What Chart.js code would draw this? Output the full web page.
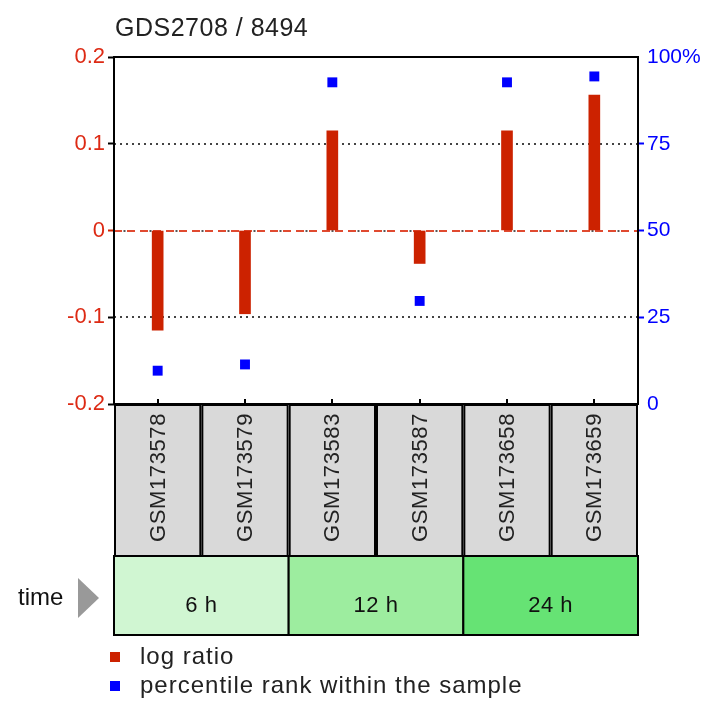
<!DOCTYPE html>
<html>
<head>
<meta charset="utf-8">
<script src="https://cdn.jsdelivr.net/npm/chart.js@4.4.1/dist/chart.umd.min.js"></script>
<style>
  html, body { margin: 0; padding: 0; background: #fff; }
  #wrap { width: 705px; height: 701px; }
</style>
</head>
<body>
<div id="wrap"><canvas id="geoChart" width="705" height="701"></canvas></div>
<script>
// Chart data
const title = 'GDS2708 / 8494';
const samples = ['GSM173578', 'GSM173579', 'GSM173583', 'GSM173587', 'GSM173658', 'GSM173659'];
const logRatio = [-0.115, -0.096, 0.115, -0.038, 0.115, 0.156];
const percentile = [9.6, 11.4, 92.7, 29.7, 92.7, 94.4];
const groupNames = ['6 h', '12 h', '24 h'];
const groupSizes = [2, 2, 2];
const groupColors = ['#d0f6d2', '#9ded9f', '#66e374'];
const legendLabels = ['log ratio', 'percentile rank within the sample'];

const FONT = '"Liberation Sans", Arial, sans-serif';
const RED = '#cc2200';
const BLUE = '#0000ff';

// Extra drawing: frame, grid lines, sample boxes, groups, legend
const geoPlugin = {
    id: 'geoPlugin',
    beforeDatasetsDraw(chart) {
        const { ctx, chartArea: a, scales } = chart;
        const y = scales.y;
        ctx.save();
        // dotted lines at +-0.1
        ctx.strokeStyle = '#444';
        ctx.lineWidth = 2;
        ctx.setLineDash([2, 4]);
        [0.1, -0.1].forEach(v => {
            const py = Math.round(y.getPixelForValue(v));
            ctx.beginPath();
            ctx.moveTo(a.left, py);
            ctx.lineTo(a.right, py);
            ctx.stroke();
        });
        // zero line, red dash-dot
        const zy = Math.round(y.getPixelForValue(0));
        ctx.strokeStyle = '#e04a30';
        ctx.setLineDash([8, 5]);
        ctx.beginPath();
        ctx.moveTo(a.left, zy);
        ctx.lineTo(a.right, zy);
        ctx.stroke();
        ctx.strokeStyle = '#555';
        ctx.setLineDash([2, 24]);
        ctx.lineDashOffset = -9.5;
        ctx.beginPath();
        ctx.moveTo(a.left, zy);
        ctx.lineTo(a.right, zy);
        ctx.stroke();
        ctx.restore();
    },
    afterDraw(chart) {
        const { ctx, chartArea: a, scales } = chart;
        const x = scales.x;
        const colW = a.width / samples.length;
        ctx.save();
        ctx.setLineDash([]);

        // title
        ctx.fillStyle = '#222';
        ctx.font = '25px ' + FONT;
        ctx.letterSpacing = '0.5px';
        ctx.textAlign = 'left';
        ctx.textBaseline = 'alphabetic';
        ctx.fillText(title, 115, 36);

        // plot frame
        ctx.strokeStyle = '#000';
        ctx.lineWidth = 2;
        ctx.strokeRect(a.left, a.top, a.width, a.height);

        // small ticks at column centres
        samples.forEach((s, i) => {
            const px = Math.round(x.getPixelForValue(i));
            ctx.beginPath();
            ctx.moveTo(px, a.bottom);
            ctx.lineTo(px, a.bottom - 5);
            ctx.stroke();
        });

        // sample boxes
        const boxTop = a.bottom + 1;
        const boxBottom = 556;
        samples.forEach((s, i) => {
            const left = a.left + i * colW;
            ctx.fillStyle = '#d9d9d9';
            ctx.fillRect(left, boxTop, colW, boxBottom - boxTop);
            ctx.strokeStyle = '#000';
            ctx.lineWidth = 2;
            ctx.strokeRect(left + 1, boxTop, colW - 2, boxBottom - boxTop);
            ctx.save();
            ctx.translate(left + colW / 2, boxTop + 8);
            ctx.rotate(-Math.PI / 2);
            ctx.fillStyle = '#222';
            ctx.font = '22px ' + FONT;
            ctx.letterSpacing = '0.6px';
            ctx.textAlign = 'right';
            ctx.textBaseline = 'middle';
            ctx.fillText(s, 0, 1);
            ctx.restore();
        });

        // group band
        const gTop = boxBottom;
        const gBottom = 635;
        let start = 0;
        groupNames.forEach((g, k) => {
            const left = a.left + start * colW;
            const w = groupSizes[k] * colW;
            ctx.fillStyle = groupColors[k];
            ctx.fillRect(left, gTop, w, gBottom - gTop);
            ctx.strokeStyle = '#000';
            ctx.lineWidth = 2;
            ctx.strokeRect(left, gTop, w, gBottom - gTop);
            ctx.fillStyle = '#111';
            ctx.font = '22px ' + FONT;
            ctx.letterSpacing = '0.5px';
            ctx.textAlign = 'center';
            ctx.textBaseline = 'middle';
            ctx.fillText(g, left + w / 2, 606);
            start += groupSizes[k];
        });

        // "time" label and arrow
        ctx.fillStyle = '#111';
        ctx.font = '24px ' + FONT;
        ctx.letterSpacing = '0px';
        ctx.textAlign = 'left';
        ctx.textBaseline = 'middle';
        ctx.fillText('time', 18, 598);
        ctx.fillStyle = '#999';
        ctx.beginPath();
        ctx.moveTo(78, 578);
        ctx.lineTo(99, 598);
        ctx.lineTo(78, 618);
        ctx.closePath();
        ctx.fill();

        // legend
        const legendColors = [RED, BLUE];
        legendLabels.forEach((t, k) => {
            const cy = 657 + k * 29;
            ctx.fillStyle = legendColors[k];
            ctx.fillRect(110, cy - 5, 10, 10);
            ctx.fillStyle = '#222';
            ctx.font = '24px ' + FONT;
            ctx.letterSpacing = '1px';
            ctx.textAlign = 'left';
            ctx.textBaseline = 'middle';
            ctx.fillText(t, 140, cy);
        });
        ctx.restore();
    }
};

const ctx = document.getElementById('geoChart').getContext('2d');
const chart = new Chart(ctx, {
    type: 'bar',
    data: {
        labels: samples,
        datasets: [{
            label: legendLabels[0],
            data: logRatio,
            yAxisID: 'y',
            backgroundColor: RED,
            barThickness: 11,
            order: 2
        }, {
            type: 'line',
            label: legendLabels[1],
            data: percentile,
            yAxisID: 'y1',
            showLine: false,
            pointStyle: 'rect',
            pointRadius: 7,
            pointHoverRadius: 7,
            pointBorderWidth: 0,
            backgroundColor: BLUE,
            borderColor: BLUE,
            order: 1
        }]
    },
    options: {
        responsive: false,
        animation: false,
        devicePixelRatio: 1,
        layout: { padding: { top: 57, bottom: 297, left: 0, right: 0 } },
        plugins: {
            legend: { display: false },
            title: { display: false },
            tooltip: { enabled: false }
        },
        scales: {
            x: {
                display: false,
                offset: true
            },
            y: {
                position: 'left',
                min: -0.2,
                max: 0.2,
                afterFit: s => { s.width = 114; },
                border: { display: false },
                grid: {
                    drawOnChartArea: false,
                    tickLength: 6,
                    tickWidth: 2,
                    tickColor: c => Math.abs(c.tick.value) < 1e-9 ? RED : '#000'
                },
                ticks: {
                    stepSize: 0.1,
                    padding: 3,
                    color: '#dd2a14',
                    font: { family: FONT, size: 22 },
                    callback: v => Math.abs(v) < 1e-9 ? '0' : (Math.round(v * 10) / 10).toString()
                }
            },
            y1: {
                position: 'right',
                min: 0,
                max: 100,
                afterFit: s => { s.width = 67; },
                border: { display: false },
                grid: {
                    drawOnChartArea: false,
                    tickLength: 6,
                    tickWidth: 2,
                    tickColor: c => (c.tick.value > 0 && c.tick.value < 100) ? BLUE : 'rgba(0,0,0,0)'
                },
                ticks: {
                    stepSize: 25,
                    padding: 3,
                    color: BLUE,
                    font: { family: FONT, size: 21 },
                    callback: v => v === 100 ? '100%' : v
                }
            }
        }
    },
    plugins: [geoPlugin]
});
</script>
</body>
</html>
